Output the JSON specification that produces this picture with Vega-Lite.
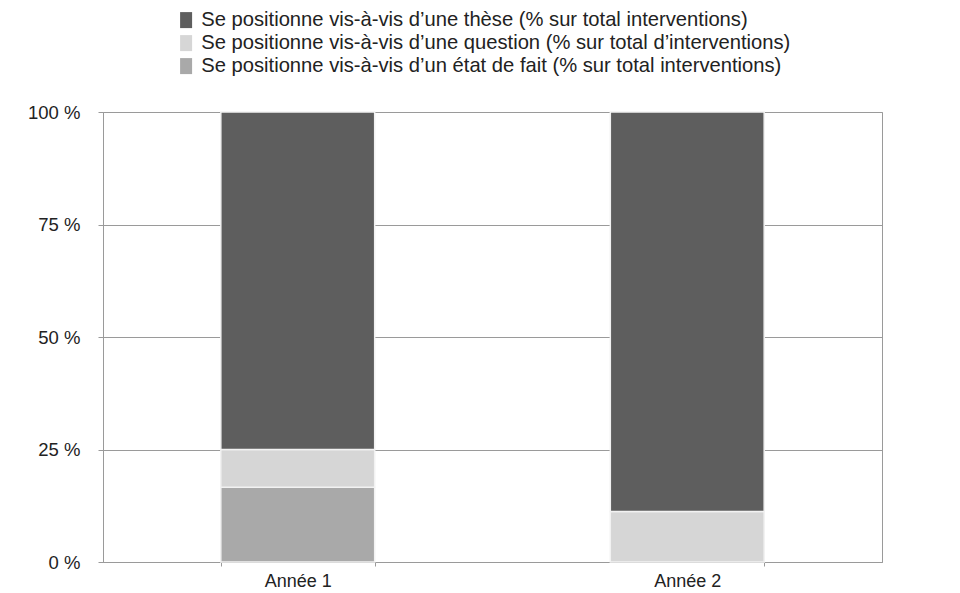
{
  "$schema": "https://vega.github.io/schema/vega-lite/v6.json",
  "width": 779,
  "height": 450,
  "autosize": {"type": "none"},
  "padding": {"left": 103, "top": 112, "right": 78, "bottom": 31},
  "background": "white",
  "data": {
    "values": [
      {"annee": "Année 1", "cat": "Se positionne vis-à-vis d’un état de fait (% sur total interventions)", "rang": 1, "valeur": 16.6},
      {"annee": "Année 1", "cat": "Se positionne vis-à-vis d’une question (% sur total d’interventions)", "rang": 2, "valeur": 8.4},
      {"annee": "Année 1", "cat": "Se positionne vis-à-vis d’une thèse (% sur total interventions)", "rang": 3, "valeur": 75},
      {"annee": "Année 2", "cat": "Se positionne vis-à-vis d’une question (% sur total d’interventions)", "rang": 2, "valeur": 11.2},
      {"annee": "Année 2", "cat": "Se positionne vis-à-vis d’une thèse (% sur total interventions)", "rang": 3, "valeur": 88.8}
    ]
  },
  "mark": {"type": "bar", "stroke": "#f2f2f2", "strokeWidth": 1.5},
  "encoding": {
    "x": {
      "field": "annee",
      "type": "nominal",
      "title": null,
      "scale": {"paddingInner": 0.605, "paddingOuter": 0.3025},
      "axis": {
        "labelAngle": 0,
        "tickBand": "extent",
        "domainColor": "#9a9a9a",
        "tickColor": "#9a9a9a",
        "tickSize": 4,
        "labelFont": "Liberation Sans",
        "labelFontSize": 18,
        "labelColor": "#222222",
        "labelPadding": 6
      }
    },
    "y": {
      "field": "valeur",
      "type": "quantitative",
      "stack": "zero",
      "title": null,
      "scale": {"domain": [0, 100], "nice": false},
      "axis": {
        "values": [0, 25, 50, 75, 100],
        "labelExpr": "datum.value + ' %'",
        "domainColor": "#9a9a9a",
        "tickColor": "#9a9a9a",
        "gridColor": "#9a9a9a",
        "gridWidth": 1,
        "tickSize": 5,
        "labelFont": "Liberation Sans",
        "labelFontSize": 18.5,
        "labelColor": "#222222",
        "labelPadding": 18
      }
    },
    "color": {
      "field": "cat",
      "type": "nominal",
      "title": null,
      "scale": {
        "domain": [
          "Se positionne vis-à-vis d’une thèse (% sur total interventions)",
          "Se positionne vis-à-vis d’une question (% sur total d’interventions)",
          "Se positionne vis-à-vis d’un état de fait (% sur total interventions)"
        ],
        "range": ["#5e5e5e", "#d6d6d6", "#a9a9a9"]
      },
      "legend": {
        "orient": "none",
        "legendX": 73,
        "legendY": -102,
        "symbolType": "M-0.75,-1H0.75V1H-0.75Z",
        "symbolSize": 256,
        "symbolStrokeWidth": 0,
        "labelFont": "Liberation Sans",
        "labelFontSize": 20.2,
        "labelColor": "#222222",
        "labelLimit": 800,
        "rowPadding": 2,
        "labelOffset": 5
      }
    },
    "order": {"field": "rang", "type": "quantitative"}
  },
  "config": {
    "view": {"stroke": "#9a9a9a", "strokeWidth": 1}
  }
}
